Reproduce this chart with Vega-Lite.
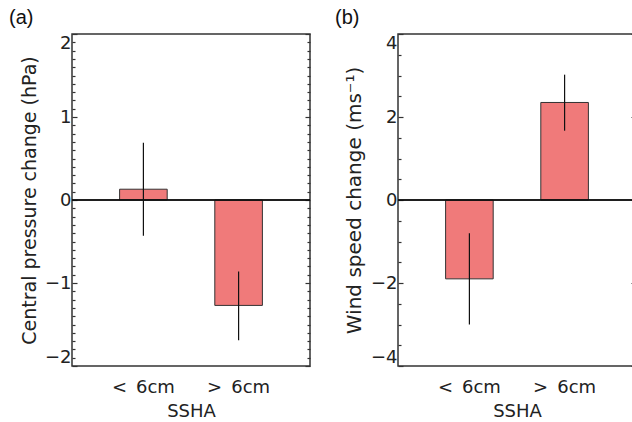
{
  "$schema": "https://vega.github.io/schema/vega-lite/v6.json",
  "autosize": {"type": "pad"},
  "padding": {"left": 8, "top": 7, "right": 0, "bottom": 0},
  "background": "white",
  "config": {
    "font": "DejaVu Sans",
    "view": {"stroke": "#333333", "strokeWidth": 1.5},
    "axis": {
      "labelFont": "DejaVu Sans",
      "labelFontSize": 18,
      "labelColor": "#222222",
      "labelOverlap": false,
      "titleFont": "DejaVu Sans",
      "titleFontSize": 18,
      "titleFontWeight": "normal",
      "titleColor": "#222222",
      "grid": false,
      "tickColor": "#333333",
      "tickWidth": 1.2,
      "tickCount": 100
    },
    "title": {
      "font": "Liberation Sans",
      "fontSize": 20,
      "fontWeight": "normal",
      "color": "#111111",
      "anchor": "start",
      "frame": "group",
      "baseline": "alphabetic",
      "dx": -63,
      "offset": 5
    }
  },
  "bounds": "flush",
  "spacing": 88,
  "datasets": {
    "pressure": [
      {"ssha": "<\u20026cm", "change": 0.13, "lo": -0.43, "hi": 0.69},
      {"ssha": ">\u20026cm", "change": -1.27, "lo": -1.69, "hi": -0.86}
    ],
    "wind": [
      {"ssha": "<\u20026cm", "change": -1.9, "lo": -3.0, "hi": -0.8},
      {"ssha": ">\u20026cm", "change": 2.35, "lo": 1.67, "hi": 3.02}
    ]
  },
  "hconcat": [
    {
      "title": "(a)",
      "width": 238,
      "height": 332,
      "data": {"name": "pressure"},
      "resolve": {"axis": {"y": "independent"}},
      "encoding": {
        "x": {
          "field": "ssha",
          "type": "nominal",
          "sort": null,
          "scale": {"paddingInner": 0.5, "paddingOuter": 0.5},
          "axis": {
            "title": "SSHA",
            "labelAngle": 0,
            "ticks": false,
            "domain": false,
            "labelFlush": false,
            "labelPadding": 12,
            "titlePadding": 6
          }
        }
      },
      "layer": [
        {
          "mark": {"type": "bar", "color": "#f07a7a", "stroke": "#333333", "strokeWidth": 1},
          "encoding": {
            "y": {
              "field": "change",
              "type": "quantitative",
              "scale": {"domain": [-2, 2], "nice": false},
              "axis": {
                "title": "Central pressure change (hPa)",
                "titleFontSize": 19,
                "orient": "left",
                "domain": false,
                "labelFlush": true,
                "labelFlushOffset": 0,
                "tickCount": 41,
                "values": [-2, -1.9, -1.8, -1.7, -1.6, -1.5, -1.4, -1.3, -1.2, -1.1, -1, -0.9, -0.8, -0.7, -0.6, -0.5, -0.4, -0.3, -0.2, -0.1, 0, 0.1, 0.2, 0.3, 0.4, 0.5, 0.6, 0.7, 0.8, 0.9, 1, 1.1, 1.2, 1.3, 1.4, 1.5, 1.6, 1.7, 1.8, 1.9, 2],
                "labelExpr": "abs(datum.value - round(datum.value)) < 1e-6 ? format(datum.value, '.0f') : ''",
                "tickSize": {"condition": {"test": "abs(datum.value - round(datum.value)) < 1e-6", "value": -5}, "value": -3},
                "labelPadding": 6,
                "titlePadding": 5
              }
            }
          }
        },
        {
          "mark": {"type": "rule", "color": "#111111", "strokeWidth": 1.2},
          "encoding": {
            "y": {"field": "lo", "type": "quantitative", "axis": null},
            "y2": {"field": "hi"}
          }
        },
        {
          "mark": {"type": "rule", "color": "#111111", "strokeWidth": 1.5},
          "encoding": {
            "x": null,
            "y": {
              "datum": 0,
              "type": "quantitative",
              "axis": {
                "title": null,
                "orient": "right",
                "domain": false,
                "labels": false,
                "tickCount": 41,
                "values": [-2, -1.9, -1.8, -1.7, -1.6, -1.5, -1.4, -1.3, -1.2, -1.1, -1, -0.9, -0.8, -0.7, -0.6, -0.5, -0.4, -0.3, -0.2, -0.1, 0, 0.1, 0.2, 0.3, 0.4, 0.5, 0.6, 0.7, 0.8, 0.9, 1, 1.1, 1.2, 1.3, 1.4, 1.5, 1.6, 1.7, 1.8, 1.9, 2],
                "tickSize": {"condition": {"test": "abs(datum.value - round(datum.value)) < 1e-6", "value": -5}, "value": -3}
              }
            }
          }
        }
      ]
    },
    {
      "title": "(b)",
      "width": 238,
      "height": 332,
      "data": {"name": "wind"},
      "resolve": {"axis": {"y": "independent"}},
      "encoding": {
        "x": {
          "field": "ssha",
          "type": "nominal",
          "sort": null,
          "scale": {"paddingInner": 0.5, "paddingOuter": 0.5},
          "axis": {
            "title": "SSHA",
            "labelAngle": 0,
            "ticks": false,
            "domain": false,
            "labelFlush": false,
            "labelPadding": 12,
            "titlePadding": 6
          }
        }
      },
      "layer": [
        {
          "mark": {"type": "bar", "color": "#f07a7a", "stroke": "#333333", "strokeWidth": 1},
          "encoding": {
            "y": {
              "field": "change",
              "type": "quantitative",
              "scale": {"domain": [-4, 4], "nice": false},
              "axis": {
                "title": "Wind speed change (ms⁻¹)",
                "titleFontSize": 20,
                "orient": "left",
                "domain": false,
                "labelFlush": true,
                "labelFlushOffset": 0,
                "tickCount": 17,
                "values": [-4, -3.5, -3, -2.5, -2, -1.5, -1, -0.5, 0, 0.5, 1, 1.5, 2, 2.5, 3, 3.5, 4],
                "labelExpr": "abs(datum.value / 2 - round(datum.value / 2)) < 1e-6 ? format(datum.value, '.0f') : ''",
                "tickSize": {"condition": {"test": "abs(datum.value / 2 - round(datum.value / 2)) < 1e-6", "value": -5}, "value": -3},
                "labelPadding": 6,
                "titlePadding": 6
              }
            }
          }
        },
        {
          "mark": {"type": "rule", "color": "#111111", "strokeWidth": 1.2},
          "encoding": {
            "y": {"field": "lo", "type": "quantitative", "axis": null},
            "y2": {"field": "hi"}
          }
        },
        {
          "mark": {"type": "rule", "color": "#111111", "strokeWidth": 1.5},
          "encoding": {
            "x": null,
            "y": {
              "datum": 0,
              "type": "quantitative",
              "axis": {
                "title": null,
                "orient": "right",
                "domain": false,
                "labels": false,
                "tickCount": 17,
                "values": [-4, -3.5, -3, -2.5, -2, -1.5, -1, -0.5, 0, 0.5, 1, 1.5, 2, 2.5, 3, 3.5, 4],
                "tickSize": {"condition": {"test": "abs(datum.value / 2 - round(datum.value / 2)) < 1e-6", "value": -5}, "value": -3}
              }
            }
          }
        }
      ]
    }
  ]
}
